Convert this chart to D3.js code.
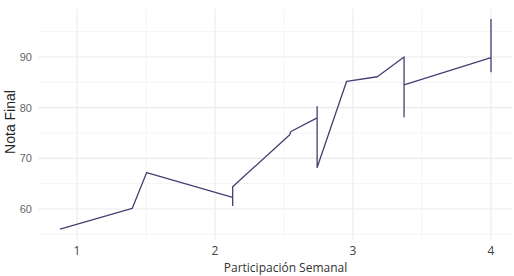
<!DOCTYPE html>
<html>
<head>
<meta charset="utf-8">
<script src="https://cdnjs.cloudflare.com/ajax/libs/d3/7.8.5/d3.min.js"></script>
<style>
  body { margin: 0; background: #fff; }
  svg { display: block; }
</style>
</head>
<body>
<div id="chart"></div>
<script>
// participation (x) and final grade (y), in path order
const participacion = [0.877, 1.40, 1.505, 2.128, 2.128, 2.128, 2.54, 2.55, 2.74, 2.74, 2.74,
                       2.954, 3.176, 3.37, 3.37, 3.37, 4.0, 4.0, 4.0];
const nota = [56.05, 60.1, 67.2, 62.3, 60.7, 64.4, 74.6, 75.3, 78.0, 80.2, 68.2,
              85.2, 86.1, 90.0, 78.2, 84.5, 89.9, 87.1, 97.5];
const xTicks = [1, 2, 3, 4];
const yTicks = [60, 70, 80, 90];

const width = 514, height = 276;
const svg = d3.select("#chart").append("svg")
    .attr("width", width).attr("height", height);

// ggplot-like 5% expansion
function expand(ext) {
    const pad = (ext[1] - ext[0]) * 0.05;
    return [ext[0] - pad, ext[1] + pad];
}
const xDom = expand(d3.extent(participacion));
const yDom = expand(d3.extent(nota));

const x = d3.scaleLinear().domain([1, 4]).range([77, 491]);
const y = d3.scaleLinear().domain([60, 90]).range([209, 57]);
const pLeft = x(xDom[0]), pRight = x(xDom[1]);
const pTop = y(yDom[1]), pBottom = y(yDom[0]);

// minor grid
const xMinor = d3.range(0.5, 4.6, 1).filter(v => v > xDom[0] && v < xDom[1]);
const yMinor = d3.range(55, 100, 10).filter(v => v > yDom[0] && v < yDom[1]);
svg.append("g").selectAll("line").data(xMinor).join("line")
    .attr("x1", d => x(d)).attr("x2", d => x(d)).attr("y1", pTop).attr("y2", pBottom)
    .attr("stroke", "#f2f2f2").attr("stroke-width", 0.8);
svg.append("g").selectAll("line").data(yMinor).join("line")
    .attr("y1", d => y(d)).attr("y2", d => y(d)).attr("x1", pLeft).attr("x2", pRight)
    .attr("stroke", "#f2f2f2").attr("stroke-width", 0.8);

// major grid
svg.append("g").selectAll("line").data(xTicks).join("line")
    .attr("x1", d => x(d)).attr("x2", d => x(d)).attr("y1", pTop).attr("y2", pBottom)
    .attr("stroke", "#ebebeb").attr("stroke-width", 1.1);
svg.append("g").selectAll("line").data(yTicks).join("line")
    .attr("y1", d => y(d)).attr("y2", d => y(d)).attr("x1", pLeft).attr("x2", pRight)
    .attr("stroke", "#ebebeb").attr("stroke-width", 1.1);

// tick labels
svg.append("g").selectAll("text").data(xTicks).join("text")
    .attr("x", d => x(d)).attr("y", 255)
    .attr("text-anchor", "middle")
    .style("font", "12px 'Open Sans', sans-serif").attr("fill", "#444")
    .text(d => d);
svg.append("g").selectAll("text").data(yTicks).join("text")
    .attr("x", 32).attr("y", d => y(d) + 4)
    .attr("text-anchor", "end")
    .style("font", "11px 'Liberation Sans', Arial, sans-serif").attr("fill", "#666")
    .text(d => d);

// axis titles
svg.append("text")
    .attr("x", (pLeft + pRight) / 2 + 10).attr("y", 272)
    .attr("text-anchor", "middle")
    .style("font", "12px 'Open Sans', sans-serif").attr("fill", "#333")
    .text("Participación Semanal");
svg.append("text")
    .attr("transform", "translate(15," + 122 + ") rotate(-90)")
    .attr("text-anchor", "middle")
    .style("font", "14px 'Liberation Sans', Arial, sans-serif").attr("fill", "#222")
    .text("Nota Final");

// the line
const pts = participacion.map((p, i) => [p, nota[i]]);
const line = d3.line().x(d => x(d[0])).y(d => y(d[1]));
svg.append("path")
    .datum(pts)
    .attr("d", line)
    .attr("fill", "none")
    .attr("stroke", "#414173")
    .attr("stroke-width", 1.3)
    .attr("stroke-linejoin", "round");
</script>
</body>
</html>
